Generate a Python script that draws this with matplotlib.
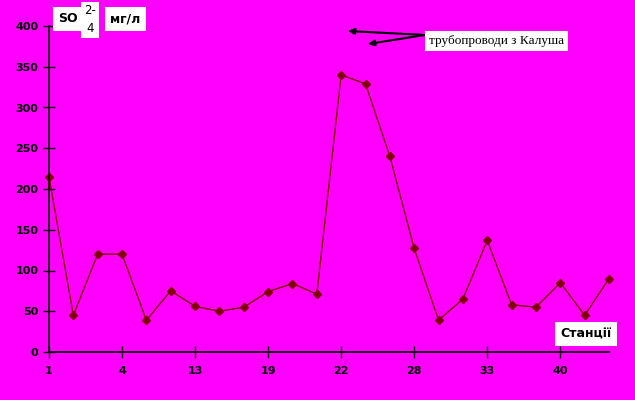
import matplotlib
matplotlib.use("Agg")
import matplotlib.pyplot as plt

# SO4 concentration by station, mg/l
values = [215, 45, 120, 120, 39, 75, 56, 50, 55, 74, 84, 71,
          340, 329, 240, 127, 39, 65, 137, 58, 55, 85, 45, 90]
tick_pos = [0, 3, 6, 9, 12, 15, 18, 21]
tick_labels = ["1", "4", "13", "19", "22", "28", "33", "40"]
y_ticks = [0, 50, 100, 150, 200, 250, 300, 350, 400]

bg = "#FF00FF"
line_c = "#800000"

fig = plt.figure(figsize=(6.35, 4.0), dpi=100, facecolor=bg)
ax = fig.add_axes([49 / 635, 48 / 400, (609 - 49) / 635, (352 - 26) / 400])
ax.set_facecolor(bg)

xs = list(range(len(values)))
ax.plot(xs, values, color=line_c, lw=1, marker="D", ms=4.5,
        mfc=line_c, mec=line_c, clip_on=False)

ax.set_xlim(0, len(values) - 1)
ax.set_ylim(0, 400)
ax.set_xticks(tick_pos)
ax.set_xticklabels(tick_labels)
ax.set_yticks(y_ticks)
for s in ["top", "right"]:
    ax.spines[s].set_visible(False)
for s in ["left", "bottom"]:
    ax.spines[s].set_linewidth(1.2)
ax.tick_params(direction="inout", length=8, width=1, labelsize=8)
ax.tick_params(axis="x", pad=6)
for lab in ax.get_xticklabels() + ax.get_yticklabels():
    lab.set_fontweight("bold")

box = dict(facecolor="white", edgecolor="none", pad=3)
# units label
fig.text(58 / 635, 1 - 19 / 400, "SO", fontsize=9, fontweight="bold",
         va="center", ha="left", bbox=dict(facecolor="white", edgecolor="none", pad=4))
fig.text(90 / 635, 1 - 20 / 400, "2-\n4", fontsize=8.5, va="center", ha="center",
         linespacing=1.5, bbox=dict(facecolor="white", edgecolor="none", pad=2))
fig.text(110 / 635, 1 - 19 / 400, "мг/л", fontsize=9, fontweight="bold",
         va="center", ha="left", bbox=dict(facecolor="white", edgecolor="none", pad=4))

# annotation with arrows
fig.text(429 / 635, 1 - 41 / 400, "трубопроводи з Калуша", fontsize=9.5,
         family="Liberation Serif", va="center", ha="left", bbox=box)
for tx, ty in [(348, 31), (368, 44)]:
    ax.annotate("", xy=(tx / 635, 1 - ty / 400), xytext=(425 / 635, 1 - 35 / 400),
                xycoords="figure fraction", textcoords="figure fraction",
                arrowprops=dict(arrowstyle="-|>", color="black", lw=1.5,
                                mutation_scale=9, shrinkA=0, shrinkB=0))

fig.text(586 / 635, 1 - 334 / 400, "Станції", fontsize=9, fontweight="bold",
         va="center", ha="center", bbox=dict(facecolor="white", edgecolor="none", pad=4))

fig.savefig("out.png", dpi=100, facecolor=bg)
